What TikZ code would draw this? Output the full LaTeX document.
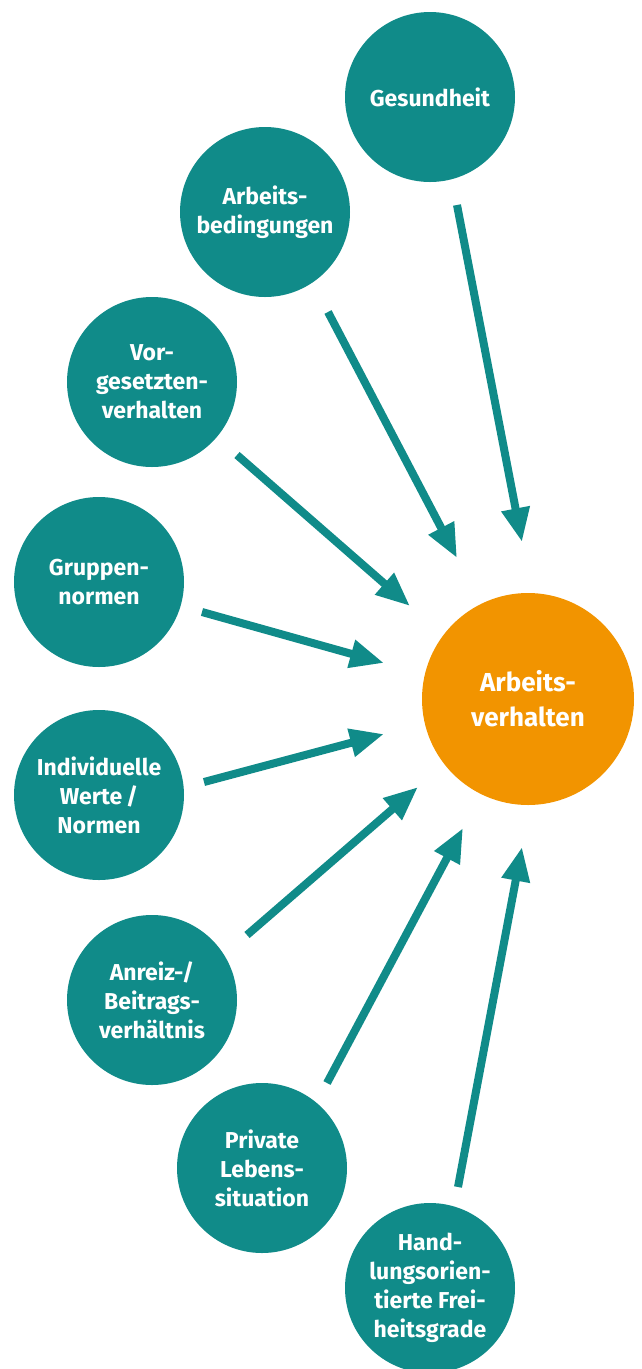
\documentclass[tikz,border=0pt]{standalone}
\usepackage{fontspec}
\setmainfont{Fira Sans}
\usetikzlibrary{arrows.meta}
\definecolor{tealc}{HTML}{108B89}
\definecolor{orangec}{HTML}{F29400}
\begin{document}
\begin{tikzpicture}[x=1pt,y=-1pt,
  kreis/.style={circle, fill=tealc, minimum size=170pt, inner sep=0pt, text=white, align=center, font=\fontsize{23}{29}\selectfont\bfseries},
  zielkreis/.style={kreis, fill=orangec, minimum size=212pt, font=\fontsize{26}{35}\selectfont\bfseries},
  pfeil/.style={draw=tealc, line width=8pt, -{Triangle[length=34pt,width=27pt]}}]
\useasboundingbox (0,0) rectangle (642,1369);
\node[kreis] (ges) at (430,97) {Gesundheit};
\node[kreis] (arb) at (265,212) {Arbeits-\\bedingungen};
\node[kreis] (vor) at (152,382) {Vor-\\gesetzten-\\verhalten};
\node[kreis] (gru) at (99,582) {Gruppen-\\normen};
\node[kreis] (ind) at (99,795) {Individuelle\\Werte\,/\\Normen};
\node[kreis] (anr) at (152,1000) {Anreiz-/\\Beitrags-\\verhältnis};
\node[kreis] (pri) at (262,1168) {Private\\Lebens-\\situation};
\node[kreis] (han) at (430,1288) {Hand-\\lungsorien-\\tierte Frei-\\heitsgrade};
\node[zielkreis] (ziel) at (528,699) {Arbeits-\\verhalten};
\coordinate (s1) at (457,205); \coordinate (e1) at (522,542);
\coordinate (s2) at (328,312); \coordinate (e2) at (457,558);
\coordinate (s3) at (237,455); \coordinate (e3) at (410,606);
\coordinate (s4) at (202,612); \coordinate (e4) at (384,663);
\coordinate (s5) at (204,782); \coordinate (e5) at (384,734);
\coordinate (s6) at (247,935); \coordinate (e6) at (418,787);
\coordinate (s7) at (327,1083); \coordinate (e7) at (463,828);
\coordinate (s8) at (458,1187); \coordinate (e8) at (522,847);
\foreach \i in {1,...,8} {\draw[pfeil] (s\i) -- (e\i);}
\end{tikzpicture}
\end{document}
